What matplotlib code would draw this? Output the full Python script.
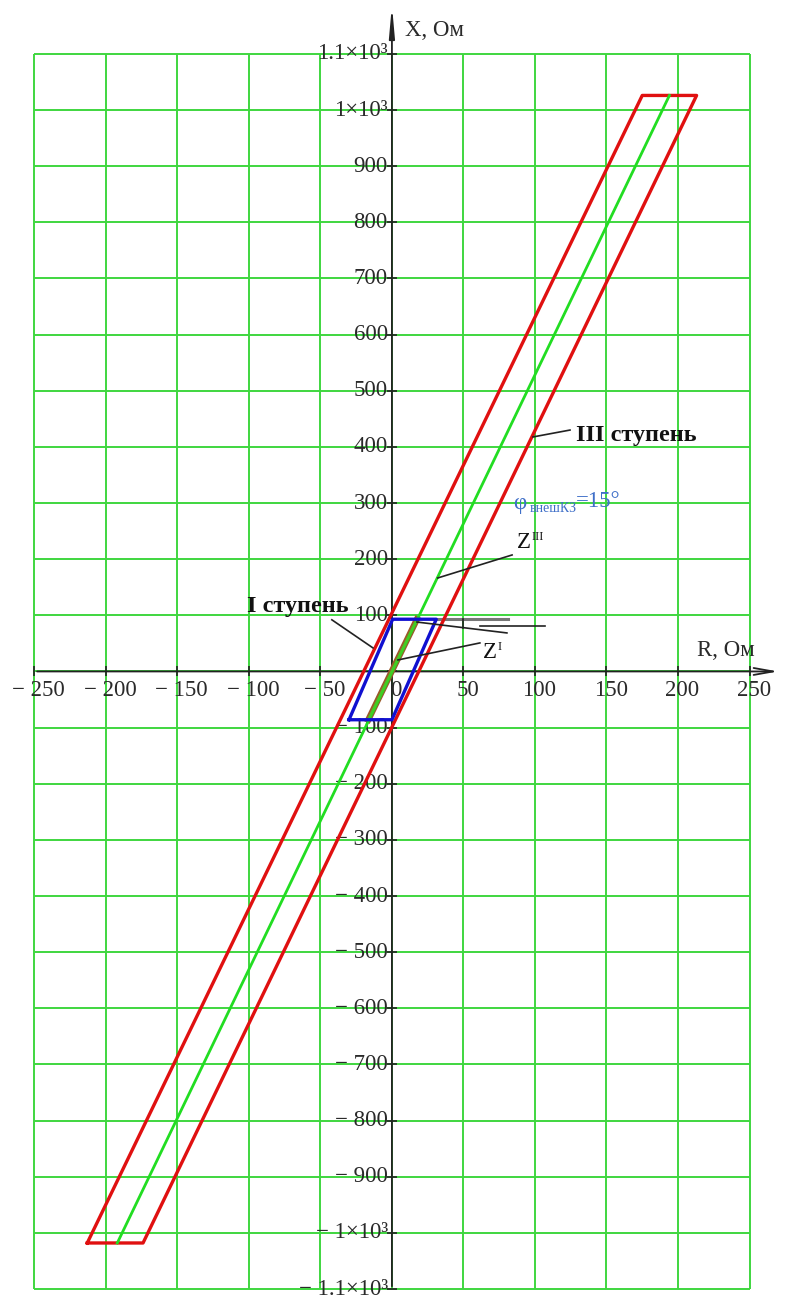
import numpy as np
import matplotlib
matplotlib.use("Agg")
from matplotlib import pyplot as plt

plt.rcParams['font.family'] = ['Liberation Serif', 'DejaVu Serif']

# grid / tick positions, Ом
r_ticks = np.arange(-250, 251, 50)
x_ticks = np.arange(-1100, 1101, 100)
r_labels = ['− 250', '− 200', '− 150', '− 100', '− 50', '0',
            '50', '100', '150', '200', '250']
x_labels = ['− 1.1×10³', '− 1×10³', '− 900', '− 800', '− 700', '− 600',
            '− 500', '− 400', '− 300', '− 200', '− 100', '',
            '100', '200', '300', '400', '500', '600', '700', '800', '900',
            '1×10³', '1.1×10³']

# III ступень: характеристика (R, X)
stage3_r = [-213, -174, 213, 175, -213]
stage3_x = [-1018, -1018, 1026, 1026, -1018]
# линия Z^III
z3_r = [-192, 194]
z3_x = [-1018, 1026]

# I ступень
stage1_r = [-30, 0, 31, 0.5, -30]
stage1_x = [-86, -86, 93, 93, -86]
# линия Z^I
z1_r = [-16.5, 17.5]
z1_x = [-86, 93]

grid_col = '#3fd63f'
txt_col = '#2a2a2a'
fs = 16.5

fig = plt.figure(figsize=(7.9, 12.98), dpi=100)
ax = fig.add_axes([0, 0, 1, 1])
ax.set_xlim(-274, 278.3)
ax.set_ylim(-1116, 1196)
ax.axis('off')

ax.vlines(r_ticks, -1100, 1100, color=grid_col, lw=1.4, zorder=1)
ax.hlines(x_ticks, -250, 250, color=grid_col, lw=1.4, zorder=1)

# axes with arrows
ax.annotate('', xy=(272, 0), xytext=(-250, 0),
            arrowprops=dict(arrowstyle='->,head_length=1.4,head_width=0.25',
                            color='#222222', lw=1.3), zorder=2)
ax.annotate('', xy=(0, 1192), xytext=(0, -1100),
            arrowprops=dict(arrowstyle='-|>,head_length=1.8,head_width=0.16',
                            color='#222222', lw=1.3), zorder=2)
ax.plot(r_ticks, np.zeros_like(r_ticks), ls='none', marker='|', ms=7,
        mew=1.2, color='#222222', zorder=2)
ax.plot(np.zeros_like(x_ticks), x_ticks, ls='none', marker='_', ms=7,
        mew=1.2, color='#222222', zorder=2)

for r, lab in zip(r_ticks, r_labels):
    ax.annotate(lab, (r, 0), xytext=(3, -14), textcoords='offset points',
                ha='center', va='center', fontsize=fs, color=txt_col)
for x, lab in zip(x_ticks, x_labels):
    ax.annotate(lab, (0, x), xytext=(-3, 0), textcoords='offset points',
                ha='right', va='center', fontsize=fs, color=txt_col)

ax.text(9, 1142, 'X, Ом', fontsize=fs, color=txt_col, va='center')
ax.text(213, 38, 'R, Ом', fontsize=fs, color=txt_col, va='center')

# characteristics
ax.plot(stage3_r, stage3_x, color='#e01010', lw=2.4, zorder=4)
ax.plot(z3_r, z3_x, color='#22dd22', lw=2.0, zorder=5)
ax.plot(z1_r, z1_x, color='#9a5a2a', lw=4.5, zorder=4)
ax.plot(z1_r, z1_x, color='#44cc22', lw=1.8, zorder=5)
ax.plot(stage1_r, stage1_x, color='#1010d0', lw=2.4, zorder=6)

# leaders and labels
lead = dict(color='#222222', lw=1.2, zorder=7)
ax.plot([-42, -13.3], [92, 42], **lead)
ax.text(-101.4, 115, 'I ступень', fontsize=17.5, color='#111111',
        va='center', fontweight='semibold')
ax.plot([4.2, 61.5], [20.5, 50.8], **lead)
ax.text(63.6, 33, 'Z', fontsize=fs, color='#111111', va='center')
ax.text(73.5, 43, 'I', fontsize=9, color='#111111', va='center')
ax.plot([32, 84], [166.5, 207.5], **lead)
ax.text(87.4, 229, 'Z', fontsize=fs, color='#111111', va='center')
ax.text(97.5, 240, 'III', fontsize=9, color='#111111', va='center')
ax.plot([98.6, 124.5], [417.7, 430], **lead)
ax.text(129, 421, 'III ступень', fontsize=17.5, color='#111111',
        va='center', fontweight='semibold')

# dimension marks near the I-stage top edge
ax.plot([31, 81], [93.5, 93.5], color='#777777', lw=2.2, zorder=3)
ax.plot([17.5, 80.4], [88, 68.6], **lead)
ax.plot([49.7, 49.7], [93.5, 77.5], **lead)
ax.plot([61.5, 107], [81, 81], **lead)

# angle note
phi_col = '#3f6fc8'
ax.text(84.6, 300, 'φ', fontsize=fs, color=phi_col, va='center')
ax.text(96.5, 290, 'внешКЗ', fontsize=10, color=phi_col, va='center')
ax.text(128.5, 303, '=15°', fontsize=16.5, color=phi_col, va='center')

plt.savefig('out.png', dpi=100)
